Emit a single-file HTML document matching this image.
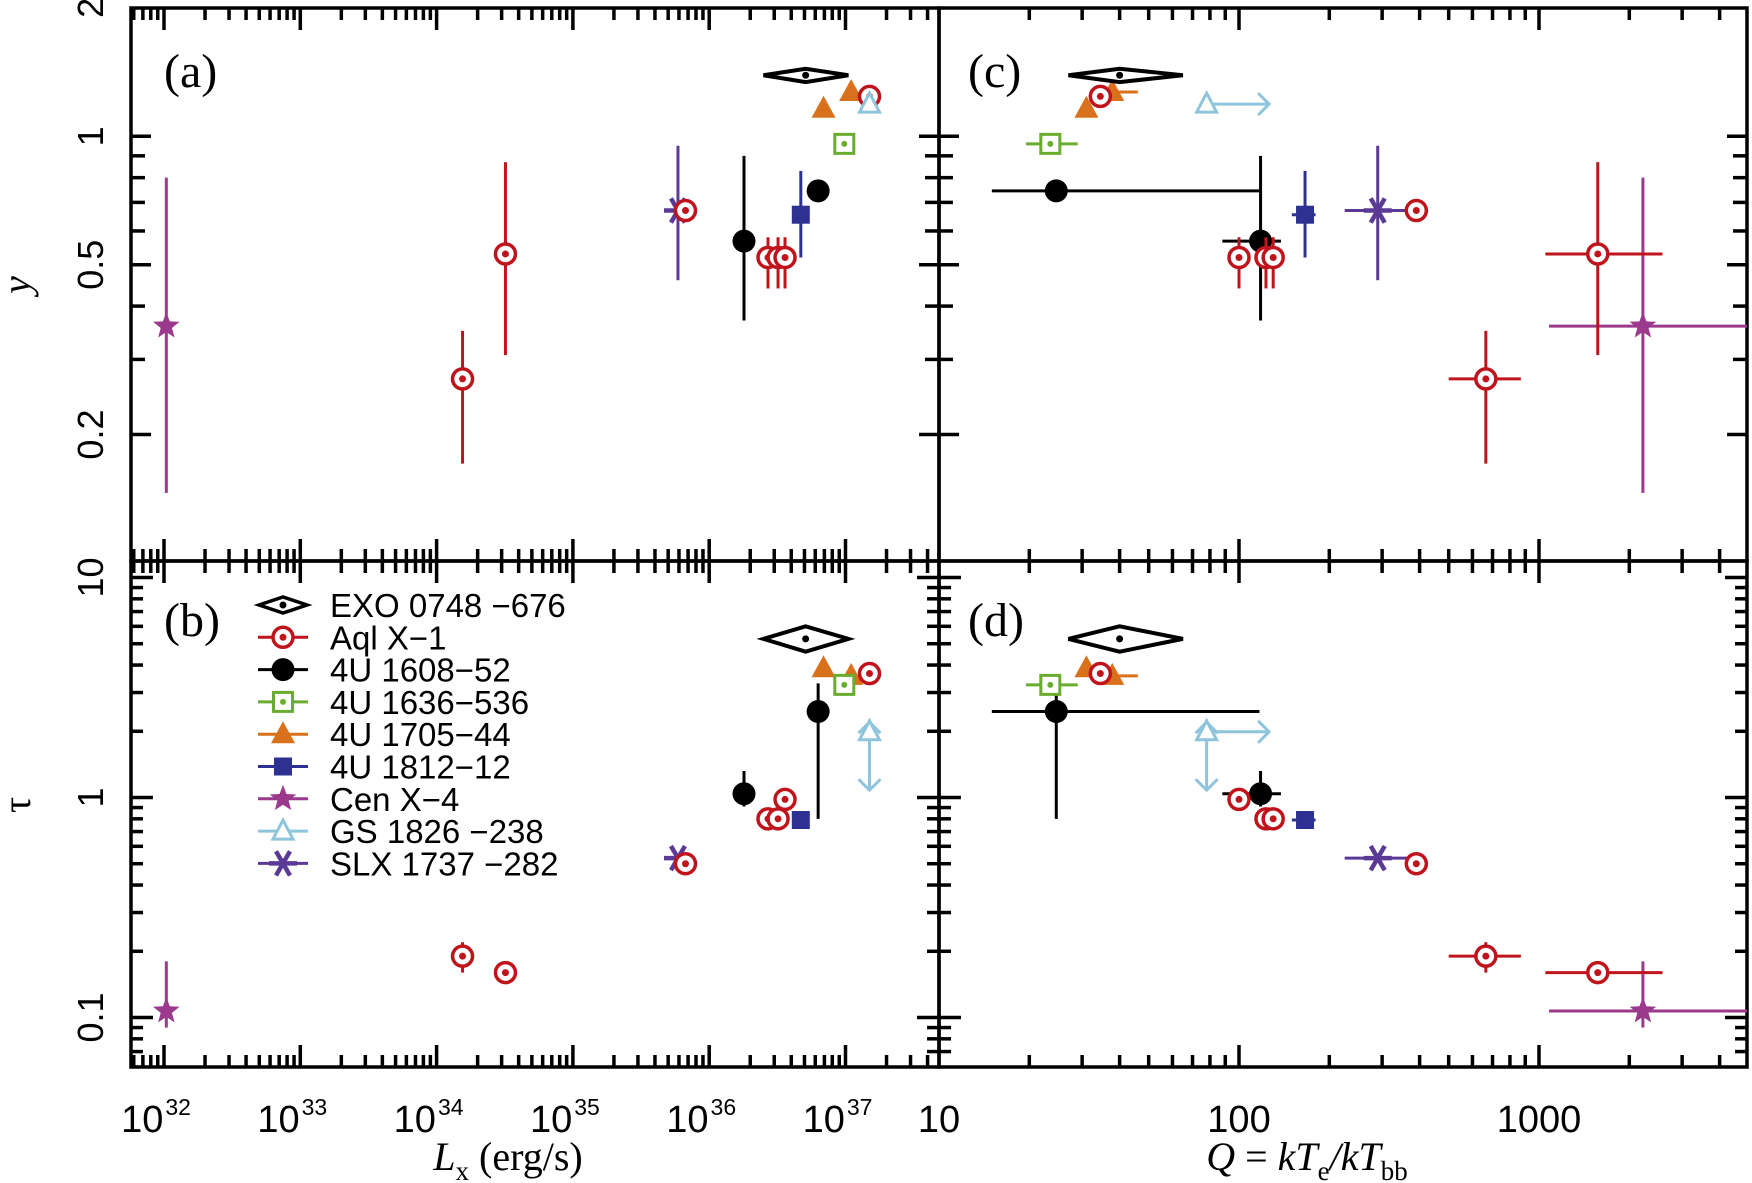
<!DOCTYPE html>
<html><head><meta charset="utf-8">
<style>
html,body{margin:0;padding:0;background:#fff;}
svg{display:block;}
text{font-family:"Liberation Sans",sans-serif;}
.serif{font-family:"Liberation Serif",serif;}
</style></head>
<body>
<svg id="chart" width="1752" height="1183" viewBox="0 0 1752 1183" xmlns="http://www.w3.org/2000/svg"></svg>
<script>
// ---- data ----
const seriesNames = ["EXO 0748 \u2212676","Aql X\u22121","4U 1608\u221252","4U 1636\u2212536","4U 1705\u221244","4U 1812\u221212","Cen  X\u22124","GS 1826 \u2212238","SLX 1737 \u2212282"];
const seriesColors = ["#000","#c0141c","#000","#6aac2e","#d9701c","#2e3192","#9b3a8c","#8ec5dc","#5b3a96"];
const ptSeries = [6,1,1,8,1,2,1,1,1,5,2,4,4,3,1,7,0];
const ptLx   = [1.04e32,1.55e34,3.2e34,5.9e35,6.7e35,1.8e36,2.7e36,3.2e36,3.6e36,4.7e36,6.3e36,6.9e36,1.1e37,9.8e36,1.5e37,1.5e37,5.1e36];
const ptLxLo = [null,null,null,null,null,null,null,null,null,null,null,null,null,null,null,null,2.5e36];
const ptLxHi = [null,null,null,null,null,null,null,null,null,null,null,null,null,null,null,null,1.05e37];
const ptQ    = [2220,665,1570,290,390,118,123,130,100,166,24.6,31,37.8,23.5,34.5,78,40];
const ptQLo  = [1080,500,1050,225,null,88,null,null,null,150,15,null,33,19.5,null,null,27];
const ptQHi  = [6000,870,2580,390,null,138,null,null,null,180,117,null,46,29,null,null,65];
const ptY    = [0.359,0.27,0.53,0.67,0.67,0.568,0.52,0.52,0.52,0.655,0.745,1.16,1.27,0.96,1.24,1.19,1.39];
const ptYLo  = [0.146,0.171,0.307,0.46,0.64,0.37,0.44,0.44,0.44,0.52,0.72,null,null,null,null,null,1.34];
const ptYHi  = [0.80,0.35,0.87,0.95,0.70,0.90,0.58,0.58,0.58,0.83,0.78,null,null,null,null,null,1.44];
const ptTau  = [0.107,0.19,0.16,0.53,0.50,1.04,0.80,0.80,0.98,0.79,2.46,3.87,3.57,3.25,3.66,1.99,5.26];
const ptTLo  = [0.09,0.16,0.145,null,null,0.91,null,null,null,null,0.80,null,null,null,null,1.08,4.6];
const ptTHi  = [0.18,0.22,0.18,null,null,1.32,null,null,null,null,3.3,null,null,null,null,2.2,6.0];
const gsQArrowTo = 126;
const yTickLabels = ["0.2","0.5","1","2"];
const tauTickLabels = ["0.1","1","10"];
const lxTickExp = [32,33,34,35,36,37];
const qTickLabels = ["10","100","1000"];

// ---- geometry ----
const L=131,M=939,R=1747,T=8,MID=561,B=1067;
const lg=Math.log10;
const xL=v=>164+(lg(v)-32)*136.3;
const xQ=v=>M+(lg(v)-1)*300;
const yY=v=>136.3-lg(v)*426.7;
const yT=v=>797.5-lg(v)*220;
const svg=document.getElementById('chart');
const NS="http://www.w3.org/2000/svg";
function mk(tag,attrs,parent){const e=document.createElementNS(NS,tag);for(const k in attrs)e.setAttribute(k,attrs[k]);(parent||svg).appendChild(e);return e;}

// clip paths
const defs=mk('defs',{});
[[L,T,M-L,MID-T],[M,T,R-M,MID-T],[L,MID,M-L,B-MID],[M,MID,R-M,B-MID]].forEach((r,i)=>{
  const c=mk('clipPath',{id:'cp'+i},defs);mk('rect',{x:r[0],y:r[1],width:r[2],height:r[3]},c);
});

// ---- ticks ----
const tk=mk('g',{});


function tick(x1,y1,x2,y2){mk('line',{x1,y1,x2,y2,stroke:'#000','stroke-width':3.5},tk);}
function logTicks(lo,hi){const out=[];for(let d=Math.floor(lg(lo));d<=Math.ceil(lg(hi));d++){for(let m=1;m<10;m++){const v=m*Math.pow(10,d);if(v>=lo*0.999&&v<=hi*1.001)out.push([v,m===1]);}}return out;}
// Lx x-axis ticks (panels a,b)
logTicks(1e31*6,4.7e37).forEach(([v,maj])=>{const x=xL(v);if(x<L+2||x>M-2)return;const len=maj?22:12;
  tick(x,T,x,T+len);tick(x,MID,x,MID-len);tick(x,MID,x,MID+len);tick(x,B,x,B-len);});
logTicks(10,5000).forEach(([v,maj])=>{const x=xQ(v);if(x<M+2||x>R-2)return;const len=maj?22:12;
  tick(x,T,x,T+len);tick(x,MID,x,MID-len);tick(x,MID,x,MID+len);tick(x,B,x,B-len);});
logTicks(0.1,2).forEach(([v,maj])=>{const y=yY(v);if(y<T+2||y>MID-2)return;const len=(maj||v===0.5||v===0.2)?20:14;
  tick(L,y,L+len,y);tick(M,y,M-len,y);tick(M,y,M+len,y);tick(R,y,R-len,y);});
logTicks(0.06,12).forEach(([v,maj])=>{const y=yT(v);if(y<MID+2||y>B-2)return;const len=maj?22:12;
  tick(L,y,L+len,y);tick(M,y,M-len,y);tick(M,y,M+len,y);tick(R,y,R-len,y);});

// frames
[[L,T,M-L,MID-T,'panel-a-frame'],[M,T,R-M,MID-T,'panel-c-frame'],[L,MID,M-L,B-MID,'panel-b-frame'],[M,MID,R-M,B-MID,'panel-d-frame']].forEach(r=>{
  const e=mk('rect',{x:r[0],y:r[1],width:r[2],height:r[3],fill:'none',stroke:'#000','stroke-width':3.5});
  
  
});

// ---- tick labels ----
function rotLabel(txt,x,y,name){const e=mk('text',{x:0,y:0,transform:`translate(${x},${y}) rotate(-90)`,'text-anchor':'middle','font-size':36});e.textContent=txt;
  
  }
[0.2,0.5,1,2].forEach((v,i)=>rotLabel(yTickLabels[i],103,yY(v),'y-tick-label'));
[0.1,1,10].forEach((v,i)=>rotLabel(tauTickLabels[i],103,yT(v),'tau-tick-label'));
lxTickExp.forEach(p=>{const x=xL(Math.pow(10,p));const t=mk('text',{x:x-8,y:1132,'text-anchor':'middle','font-size':38});t.textContent='10';
  
  
  const s=mk('tspan',{dx:2,dy:-17,'font-size':23},t);s.textContent=String(p);});
[10,100,1000].forEach((v,i)=>{const t=mk('text',{x:xQ(v),y:1132,'text-anchor':'middle','font-size':38});t.textContent=qTickLabels[i];
  
  });

// axis titles
let at=mk('text',{x:0,y:0,transform:'translate(30,285) rotate(-90)','text-anchor':'middle','font-size':40,'font-style':'italic',class:'serif'});at.textContent='y';

at=mk('text',{x:0,y:0,transform:'translate(30,805) rotate(-90)','text-anchor':'middle','font-size':40,class:'serif'});at.textContent='\u03c4';

at=mk('text',{x:508,y:1170,'text-anchor':'middle','font-size':40,class:'serif'});

mk('tspan',{'font-style':'italic'},at).textContent='L';
mk('tspan',{dy:10,'font-size':27},at).textContent='x';
mk('tspan',{dy:-10},at).textContent=' (erg/s)';
at=mk('text',{x:1307,y:1170,'text-anchor':'middle','font-size':40,class:'serif'});

mk('tspan',{'font-style':'italic'},at).textContent='Q';
mk('tspan',{},at).textContent=' = ';
mk('tspan',{'font-style':'italic'},at).textContent='kT';
mk('tspan',{dy:10,'font-size':27},at).textContent='e';
mk('tspan',{dy:-10,'font-style':'italic'},at).textContent='/kT';
mk('tspan',{dy:10,'font-size':27},at).textContent='bb';

// panel labels
[['(a)',164,87],['(c)',968,87],['(b)',164,636],['(d)',968,636]].forEach(p=>{const t=mk('text',{x:p[1],y:p[2],'font-size':48,class:'serif'});t.textContent=p[0];
  });

// ---- markers ----
function star(cx,cy,r,g,col){let d='';for(let i=0;i<10;i++){const a=-Math.PI/2+i*Math.PI/5;const rr=i%2?r*0.42:r;d+=(i?'L':'M')+(cx+rr*Math.cos(a)).toFixed(1)+','+(cy+rr*Math.sin(a)).toFixed(1);}mk('path',{d:d+'Z',fill:col},g);}
function marker(s,x,y,g,col){
  switch(s){
    case 0: mk('path',{d:`M${x-26},${y}L${x},${y-9}L${x+26},${y}L${x},${y+9}Z`,fill:'#fff',stroke:'#000','stroke-width':4},g);mk('circle',{cx:x,cy:y,r:3.5,fill:'#000'},g);break;
    case 1: mk('circle',{cx:x,cy:y,r:10,fill:'#fff',stroke:col,'stroke-width':3.5},g);mk('circle',{cx:x,cy:y,r:3.5,fill:col},g);break;
    case 2: mk('circle',{cx:x,cy:y,r:11.5,fill:'#000'},g);break;
    case 3: mk('rect',{x:x-9.5,y:y-9.5,width:19,height:19,fill:'#fff',stroke:col,'stroke-width':3},g);mk('circle',{cx:x,cy:y,r:3,fill:col},g);break;
    case 4: mk('path',{d:`M${x},${y-13}L${x+12},${y+9}L${x-12},${y+9}Z`,fill:col},g);break;
    case 5: mk('rect',{x:x-9,y:y-9,width:18,height:18,fill:col},g);break;
    case 6: star(x,y,14,g,col);break;
    case 7: mk('path',{d:`M${x},${y-11}L${x+10},${y+8}L${x-10},${y+8}Z`,fill:'#fff',stroke:col,'stroke-width':3},g);break;
    case 8: [0,60,120].forEach(a=>{const r=14,c=Math.cos(a*Math.PI/180)*r,sn=Math.sin(a*Math.PI/180)*r;mk('line',{x1:x-c,y1:y-sn,x2:x+c,y2:y+sn,stroke:col,'stroke-width':4.5},g);});break;
  }
}
function line(g,x1,y1,x2,y2,col){mk('line',{x1,y1,x2,y2,stroke:col,'stroke-width':3},g);}
function arrowHead(g,x,y,dir,col){const h=11;let d;
  if(dir==='r')d=`M${x-h},${y-h}L${x},${y}L${x-h},${y+h}`;
  if(dir==='u')d=`M${x-h},${y+h}L${x},${y}L${x+h},${y+h}`;
  if(dir==='d')d=`M${x-h},${y-h}L${x},${y}L${x+h},${y-h}`;
  mk('path',{d,fill:'none',stroke:col,'stroke-width':3},g);}

const panels=[
  {name:'panel-a',cp:0,xf:i=>xL(ptLx[i]),xlo:i=>ptLxLo[i],xhi:i=>ptLxHi[i],xs:xL,yf:i=>yY(ptY[i]),ylo:i=>ptYLo[i],yhi:i=>ptYHi[i],ys:yY,vArr:false,hArr:false},
  {name:'panel-c',cp:1,xf:i=>xQ(ptQ[i]),xlo:i=>ptQLo[i],xhi:i=>ptQHi[i],xs:xQ,yf:i=>yY(ptY[i]),ylo:i=>ptYLo[i],yhi:i=>ptYHi[i],ys:yY,vArr:false,hArr:true},
  {name:'panel-b',cp:2,xf:i=>xL(ptLx[i]),xlo:i=>ptLxLo[i],xhi:i=>ptLxHi[i],xs:xL,yf:i=>yT(ptTau[i]),ylo:i=>ptTLo[i],yhi:i=>ptTHi[i],ys:yT,vArr:true,hArr:false},
  {name:'panel-d',cp:3,xf:i=>xQ(ptQ[i]),xlo:i=>ptQLo[i],xhi:i=>ptQHi[i],xs:xQ,yf:i=>yT(ptTau[i]),ylo:i=>ptTLo[i],yhi:i=>ptTHi[i],ys:yT,vArr:true,hArr:true},
];
panels.forEach(p=>{
  const pg=mk('g',{'clip-path':`url(#cp${p.cp})`});
  
  
  ptSeries.forEach((s,i)=>{
    const col=seriesColors[s];
    const g=mk('g',{},pg);
    
    
    const x=p.xf(i),y=p.yf(i);
    if(s===0){ // diamond spanning error ranges
      const x1=p.xs(p.xlo(i)),x2=p.xs(p.xhi(i)),y1=p.ys(p.yhi(i)),y2=p.ys(p.ylo(i));
      mk('path',{d:`M${x1},${y}L${x},${y1}L${x2},${y}L${x},${y2}Z`,fill:'#fff',stroke:'#000','stroke-width':4},g);
      mk('circle',{cx:x,cy:y,r:3.5,fill:'#000'},g);return;
    }
    if(s===7){
      if(p.hArr){const xe=p.xs(gsQArrowTo);line(g,x,y,xe,y,col);arrowHead(g,xe,y,'r',col);}
      if(p.vArr){const yu=p.ys(p.yhi(i)),yd=p.ys(p.ylo(i));line(g,x,yu,x,yd,col);arrowHead(g,x,yu,'u',col);arrowHead(g,x,yd,'d',col);}
      marker(s,x,y,g,col);return;
    }
    if(p.xlo(i)!=null)line(g,p.xs(p.xlo(i)),y,p.xs(p.xhi(i)),y,col);
    if(p.ylo(i)!=null)line(g,x,p.ys(p.ylo(i)),x,p.ys(p.yhi(i)),col);
    marker(s,x,y,g,col);
  });
});

// ---- legend ----
const lgG=mk('g',{});


seriesNames.forEach((n,i)=>{
  const y=605+i*32.3,col=seriesColors[i];
  const g=mk('g',{},lgG);
  
  
  if(i===0){mk('path',{d:`M259,${y}L283,${y-8}L307,${y}L283,${y+8}Z`,fill:'#fff',stroke:'#000','stroke-width':3.5},g);mk('circle',{cx:283,cy:y,r:3.5,fill:'#000'},g);}
  else{line(g,258,y,308,y,col);marker(i,283,y,g,col);}
  const t=mk('text',{x:330,y:y+12,'font-size':33},g);t.textContent=n;
});
</script>
</body></html>
